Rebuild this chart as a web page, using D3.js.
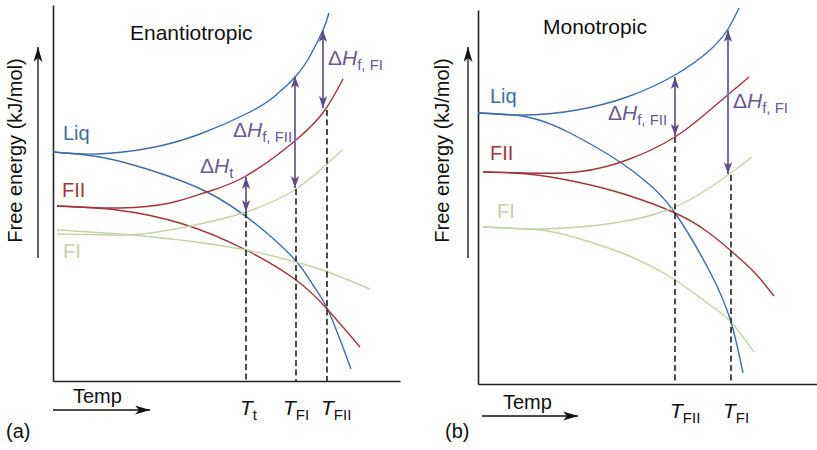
<!DOCTYPE html>
<html><head><meta charset="utf-8">
<script src="https://cdn.jsdelivr.net/npm/d3@7"></script>
<style>
body{margin:0;background:#fff}
svg{display:block}
text{font-family:"Liberation Sans",Arial,Helvetica,sans-serif}
</style>
</head><body><svg id="c" width="817" height="450"></svg>
<script>
// ---------------- DATA ----------------
const panelTitles = ["Enantiotropic", "Monotropic"];
const panelTags = ["(a)", "(b)"];
const axisTitleY = "Free energy (kJ/mol)";
const axisTitleX = "Temp";
const phaseNames = ["Liq", "FII", "FI"];

// Panel (a) enantiotropic: [temperature, free energy] (arbitrary units)
const aLiqH = [[0,229],[44,227],[97,233],[147,247],[197,269],[222,285],[243,305],[257,325],[270,351],[276,368]];
const aLiqG = [[0,229],[47,224],[97,211],[154,189],[204,156],[243,120],[260,96],[275,71],[298,12]];
const aFIIH = [[4,175],[67,173],[117,178],[154,189],[193,205],[243,241],[272,271],[290,302]];
const aFIIG = [[4,175],[64,171],[130,157],[193,131],[243,101],[275,71],[307,34]];
const aFIH  = [[4,147],[57,146],[97,148],[147,157],[193,169],[243,192],[289,231]];
const aFIG  = [[4,151],[67,147],[127,141],[193,131],[243,119],[275,109],[317,92]];
const aTickNames = ["t", "FI", "FII"];
const aTickT = [193, 243, 274];
const aTickTop = [169, 192, 271];
const aDeltaNames = ["t", "f, FII", "f, FI"];
const aDeltaT = [193, 242, 270];
const aDeltaFrom = [204, 305, 351];
const aDeltaTo = [169, 193, 273];

// Panel (b) monotropic
const bLiqH = [[0,271],[49,269],[99,274],[149,287],[197,309],[232,334],[250,355],[261,376]];
const bLiqG = [[0,271],[49,267],[92,251],[142,222],[172,199],[197,171],[232,112],[253,62],[265,11]];
const bFIIH = [[5,212],[49,211],[99,212],[149,224],[197,247],[232,274],[271,307]];
const bFIIG = [[5,212],[49,210],[99,202],[149,189],[197,171],[227,154],[252,134],[276,112],[296,88]];
const bFIH  = [[5,157],[62,155],[129,160],[197,177],[250,209],[274,227]];
const bFIG  = [[5,157],[62,154],[99,146],[149,129],[197,104],[232,79],[253,62],[276,32]];
const bTickNames = ["FII", "FI"];
const bTickT = [197, 253];
const bTickTop = [247, 209];
const bDeltaNames = ["f, FII", "f, FI"];
const bDeltaT = [197, 250];
const bDeltaFrom = [307, 354];
const bDeltaTo = [248, 210];

// ---------------- STYLE ----------------
const COL = {Liq:"#3c6da5", FII:"#a6343b", FI:"#c4d3a8", dhText:"#6b5794", dhLine:"#7e6ba7", dhHead:"#5f4b8c"};
const svg = d3.select("#c");
const defs = svg.append("defs");
function marker(id, color, len, half, notch){
  defs.append("marker").attr("id", id)
    .attr("viewBox", `${-len} ${-half} ${len} ${2*half}`)
    .attr("refX", 0).attr("refY", 0)
    .attr("markerUnits", "userSpaceOnUse")
    .attr("markerWidth", len).attr("markerHeight", 2*half)
    .attr("orient", "auto-start-reverse")
    .append("path").attr("d", `M0,0L${-len},${-half}L${-len+notch},0L${-len},${half}Z`).attr("fill", color);
}
marker("ph", COL.dhHead, 12, 4.2, 3);
marker("bh", "#111", 15, 4.5, 4);

function rich(g, x, y, parts, color, size, subSize, anchor){
  const t = g.append("text").attr("x", x).attr("y", y).attr("fill", color)
    .attr("font-size", size).attr("text-anchor", anchor || "start");
  parts.forEach(p => {
    const s = t.append("tspan").text(p.text);
    if (p.italic) s.attr("font-style", "italic");
    if (p.sub) s.attr("font-size", subSize).attr("dy", 5);
  });
  return t;
}

const panels = [
  { title: panelTitles[0], tag: panelTags[0], xr:[53,400], xd:[0,347], yr:[381,5], yd:[0,376],
    curves: [[aLiqH,"Liq"],[aLiqG,"Liq"],[aFIIH,"FII"],[aFIIG,"FII"],[aFIH,"FI"],[aFIG,"FI"]],
    ticks: aTickNames.map((n,i)=>({n, T:aTickT[i], top:aTickTop[i]})), tickDx:[-6,-13,-6],
    deltas: aDeltaNames.map((n,i)=>({n, T:aDeltaT[i], from:aDeltaFrom[i], to:aDeltaTo[i]})),
    deltaPos: [[200,173],[233,137],[328,65]],
    phasePos: [[63,140],[62,197],[63,258]],
    titlePos:[130,40], tagPos:[6,438], yLabX:22, yArrowX:38, yArrow:[258,47],
    tempPos:[73,403], tempArrow:[53,150,410] },
  { title: panelTitles[1], tag: panelTags[1], xr:[478,817], xd:[0,339], yr:[384,10], yd:[0,374],
    curves: [[bLiqH,"Liq"],[bLiqG,"Liq"],[bFIIH,"FII"],[bFIIG,"FII"],[bFIH,"FI"],[bFIG,"FI"]],
    ticks: bTickNames.map((n,i)=>({n, T:bTickT[i], top:bTickTop[i]})), tickDx:[-5,-8],
    deltas: bDeltaNames.map((n,i)=>({n, T:bDeltaT[i], from:bDeltaFrom[i], to:bDeltaTo[i]})),
    deltaPos: [[608,120],[733,108]],
    phasePos: [[490,103],[490,160],[497,218]],
    titlePos:[543,34], tagPos:[445,438], yLabX:449, yArrowX:468, yArrow:[258,47],
    tempPos:[503,409], tempArrow:[482,578,416] }
];

panels.forEach(P => {
  const g = svg.append("g");
  const x = d3.scaleLinear().domain(P.xd).range(P.xr);
  const y = d3.scaleLinear().domain(P.yd).range(P.yr);

  // axes (domain lines only)
  const ax = g.append("g").attr("transform", `translate(0,${P.yr[0]})`)
    .call(d3.axisBottom(x).tickValues([]).tickSizeOuter(0));
  const ay = g.append("g").attr("transform", `translate(${P.xr[0]},0)`)
    .call(d3.axisLeft(y).tickValues([]).tickSizeOuter(0));
  [ax, ay].forEach(a => a.select(".domain").attr("stroke", "#222").attr("stroke-width", 1.6));

  // curves
  const line = d3.line().x(d => x(d[0])).y(d => y(d[1])).curve(d3.curveNatural);
  P.curves.forEach(([data, ph]) => {
    g.append("path").datum(data).attr("d", line).attr("fill", "none")
      .attr("stroke", COL[ph]).attr("stroke-width", 1.4);
  });

  // dashed transition lines + labels
  P.ticks.forEach((t, i) => {
    g.append("line").attr("x1", x(t.T)).attr("x2", x(t.T))
      .attr("y1", y(t.top)).attr("y2", y(0))
      .attr("stroke", "#111").attr("stroke-width", 1.5).attr("stroke-dasharray", "6,3.5");
    rich(g, x(t.T) + P.tickDx[i], P.yr[0] + 34,
      [{text:"T", italic:true}, {text:t.n, sub:true}], "#111", 21, 15);
  });

  // enthalpy arrows
  P.deltas.forEach((d, i) => {
    g.append("line").attr("x1", x(d.T)).attr("x2", x(d.T))
      .attr("y1", y(d.from)).attr("y2", y(d.to))
      .attr("stroke", COL.dhLine).attr("stroke-width", 2)
      .attr("marker-start", "url(#ph)").attr("marker-end", "url(#ph)");
    rich(g, P.deltaPos[i][0], P.deltaPos[i][1],
      [{text:"\u0394"}, {text:"H", italic:true}, {text:d.n, sub:true}], COL.dhText, 21, 15);
  });

  // phase labels
  phaseNames.forEach((n, i) => {
    g.append("text").attr("x", P.phasePos[i][0]).attr("y", P.phasePos[i][1])
      .attr("fill", COL[n]).attr("font-size", 20).text(n);
  });

  // title, tag
  g.append("text").attr("x", P.titlePos[0]).attr("y", P.titlePos[1])
    .attr("font-size", 21).attr("fill", "#111").text(P.title);
  g.append("text").attr("x", P.tagPos[0]).attr("y", P.tagPos[1])
    .attr("font-size", 20).attr("fill", "#111").text(P.tag);

  // y axis title + arrow
  const ymid = (P.yArrow[0] + P.yArrow[1]) / 2 - 2;
  g.append("text").attr("transform", `translate(${P.yLabX},${ymid}) rotate(-90)`)
    .attr("text-anchor", "middle").attr("font-size", 20).attr("fill", "#111").text(axisTitleY);
  g.append("line").attr("x1", P.yArrowX).attr("x2", P.yArrowX)
    .attr("y1", P.yArrow[0]).attr("y2", P.yArrow[1])
    .attr("stroke", "#111").attr("stroke-width", 1.3).attr("marker-end", "url(#bh)");

  // x axis title + arrow
  g.append("text").attr("x", P.tempPos[0]).attr("y", P.tempPos[1])
    .attr("font-size", 20).attr("fill", "#111").text(axisTitleX);
  g.append("line").attr("x1", P.tempArrow[0]).attr("x2", P.tempArrow[1])
    .attr("y1", P.tempArrow[2]).attr("y2", P.tempArrow[2])
    .attr("stroke", "#111").attr("stroke-width", 1.3).attr("marker-end", "url(#bh)");
});
</script>
</body></html>
